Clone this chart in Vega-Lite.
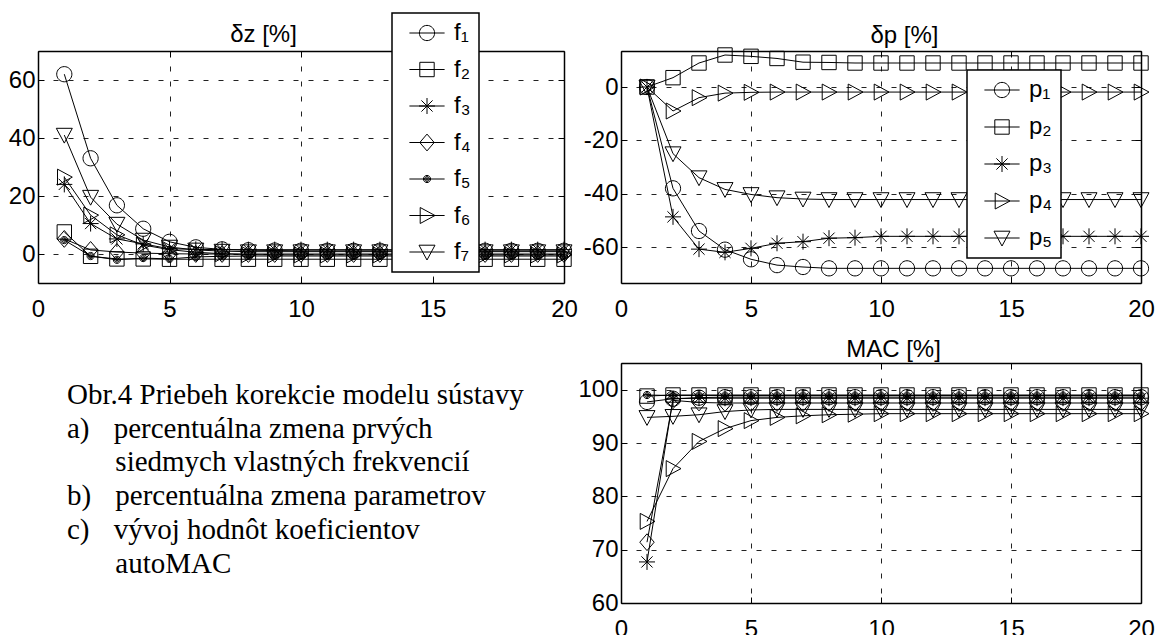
{
  "$schema": "https://vega.github.io/schema/vega-lite/v6.json",
  "background": "white",
  "padding": {"left": 8, "top": 12, "right": 0, "bottom": 0},
  "config": {
    "font": "Liberation Sans",
    "view": {"stroke": null},
    "axis": {
      "labelFont": "Liberation Sans", "labelFontSize": 24, "labelColor": "black",
      "domainColor": "black", "domainWidth": 1.5,
      "tickColor": "black", "tickWidth": 1, "tickSize": -6,
      "gridColor": "#222222", "gridDash": [5, 10], "gridWidth": 1,
      "labelFlush": false, "labelOverlap": false,
      "titleFont": "Liberation Sans", "titleFontSize": 24, "titleFontWeight": "normal", "titleColor": "black"
    },
    "legend": {
      "title": null, "orient": "none", "fillColor": "white", "strokeColor": "black", "strokeWidth": 1.5,
      "padding": 8, "symbolSize": 256, "symbolStrokeWidth": 1, "symbolStrokeColor": "black",
      "symbolFillColor": "transparent", "symbolOpacity": 1, "symbolOffset": 15, "labelOffset": 15,
      "labelFont": "Liberation Sans", "labelFontSize": 24, "labelColor": "black", "rowPadding": 12.5, "labelLimit": 200
    }
  },
  "datasets": {
    "dz": [
      {"i":1,"s":"f1","v":62},{"i":2,"s":"f1","v":33},{"i":3,"s":"f1","v":16.8},{"i":4,"s":"f1","v":8.7},{"i":5,"s":"f1","v":4.2},{"i":6,"s":"f1","v":2.3},{"i":7,"s":"f1","v":1.6},{"i":8,"s":"f1","v":1.3},{"i":9,"s":"f1","v":1.2},{"i":10,"s":"f1","v":1.1},{"i":11,"s":"f1","v":1.1},{"i":12,"s":"f1","v":1.1},{"i":13,"s":"f1","v":1.1},{"i":14,"s":"f1","v":1.1},{"i":15,"s":"f1","v":1.1},{"i":16,"s":"f1","v":1.1},{"i":17,"s":"f1","v":1.1},{"i":18,"s":"f1","v":1.1},{"i":19,"s":"f1","v":1.1},{"i":20,"s":"f1","v":1.1},
      {"i":1,"s":"f2","v":7.6},{"i":2,"s":"f2","v":-0.8},{"i":3,"s":"f2","v":-1.7},{"i":4,"s":"f2","v":-1.7},{"i":5,"s":"f2","v":-1.8},{"i":6,"s":"f2","v":-1.8},{"i":7,"s":"f2","v":-1.8},{"i":8,"s":"f2","v":-1.8},{"i":9,"s":"f2","v":-1.8},{"i":10,"s":"f2","v":-1.8},{"i":11,"s":"f2","v":-1.8},{"i":12,"s":"f2","v":-1.8},{"i":13,"s":"f2","v":-1.8},{"i":14,"s":"f2","v":-1.8},{"i":15,"s":"f2","v":-1.8},{"i":16,"s":"f2","v":-1.8},{"i":17,"s":"f2","v":-1.8},{"i":18,"s":"f2","v":-1.8},{"i":19,"s":"f2","v":-1.8},{"i":20,"s":"f2","v":-1.8},
      {"i":1,"s":"f3","v":24},{"i":2,"s":"f3","v":10.5},{"i":3,"s":"f3","v":5.2},{"i":4,"s":"f3","v":3.5},{"i":5,"s":"f3","v":1.8},{"i":6,"s":"f3","v":1.6},{"i":7,"s":"f3","v":1.5},{"i":8,"s":"f3","v":1.5},{"i":9,"s":"f3","v":1.5},{"i":10,"s":"f3","v":1.5},{"i":11,"s":"f3","v":1.5},{"i":12,"s":"f3","v":1.5},{"i":13,"s":"f3","v":1.5},{"i":14,"s":"f3","v":1.5},{"i":15,"s":"f3","v":1.5},{"i":16,"s":"f3","v":1.5},{"i":17,"s":"f3","v":1.5},{"i":18,"s":"f3","v":1.5},{"i":19,"s":"f3","v":1.5},{"i":20,"s":"f3","v":1.5},
      {"i":1,"s":"f4","v":5.2},{"i":2,"s":"f4","v":1.4},{"i":3,"s":"f4","v":0.7},{"i":4,"s":"f4","v":0.3},{"i":5,"s":"f4","v":0.1},{"i":6,"s":"f4","v":0},{"i":7,"s":"f4","v":0},{"i":8,"s":"f4","v":0},{"i":9,"s":"f4","v":0},{"i":10,"s":"f4","v":0},{"i":11,"s":"f4","v":0},{"i":12,"s":"f4","v":0},{"i":13,"s":"f4","v":0},{"i":14,"s":"f4","v":0},{"i":15,"s":"f4","v":0},{"i":16,"s":"f4","v":0},{"i":17,"s":"f4","v":0},{"i":18,"s":"f4","v":0},{"i":19,"s":"f4","v":0},{"i":20,"s":"f4","v":0},
      {"i":1,"s":"f5","v":4.8},{"i":2,"s":"f5","v":-0.7},{"i":3,"s":"f5","v":-2},{"i":4,"s":"f5","v":-1.4},{"i":5,"s":"f5","v":-1.7},{"i":6,"s":"f5","v":-1},{"i":7,"s":"f5","v":-0.8},{"i":8,"s":"f5","v":-0.7},{"i":9,"s":"f5","v":-0.7},{"i":10,"s":"f5","v":-0.7},{"i":11,"s":"f5","v":-0.7},{"i":12,"s":"f5","v":-0.7},{"i":13,"s":"f5","v":-0.7},{"i":14,"s":"f5","v":-0.7},{"i":15,"s":"f5","v":-0.7},{"i":16,"s":"f5","v":-0.7},{"i":17,"s":"f5","v":-0.7},{"i":18,"s":"f5","v":-0.7},{"i":19,"s":"f5","v":-0.7},{"i":20,"s":"f5","v":-0.7},
      {"i":1,"s":"f6","v":26.5},{"i":2,"s":"f6","v":13.4},{"i":3,"s":"f6","v":6.6},{"i":4,"s":"f6","v":3.1},{"i":5,"s":"f6","v":1.5},{"i":6,"s":"f6","v":0.6},{"i":7,"s":"f6","v":0.1},{"i":8,"s":"f6","v":-0.2},{"i":9,"s":"f6","v":-0.3},{"i":10,"s":"f6","v":-0.3},{"i":11,"s":"f6","v":-0.3},{"i":12,"s":"f6","v":-0.3},{"i":13,"s":"f6","v":-0.3},{"i":14,"s":"f6","v":-0.3},{"i":15,"s":"f6","v":-0.3},{"i":16,"s":"f6","v":-0.3},{"i":17,"s":"f6","v":-0.3},{"i":18,"s":"f6","v":-0.3},{"i":19,"s":"f6","v":-0.3},{"i":20,"s":"f6","v":-0.3},
      {"i":1,"s":"f7","v":41},{"i":2,"s":"f7","v":19.6},{"i":3,"s":"f7","v":10.3},{"i":4,"s":"f7","v":4.8},{"i":5,"s":"f7","v":2.4},{"i":6,"s":"f7","v":1.4},{"i":7,"s":"f7","v":1},{"i":8,"s":"f7","v":0.8},{"i":9,"s":"f7","v":0.8},{"i":10,"s":"f7","v":0.8},{"i":11,"s":"f7","v":0.8},{"i":12,"s":"f7","v":0.8},{"i":13,"s":"f7","v":0.8},{"i":14,"s":"f7","v":0.8},{"i":15,"s":"f7","v":0.8},{"i":16,"s":"f7","v":0.8},{"i":17,"s":"f7","v":0.8},{"i":18,"s":"f7","v":0.8},{"i":19,"s":"f7","v":0.8},{"i":20,"s":"f7","v":0.8}
    ],
    "dp": [
      {"i":1,"s":"p1","v":0},{"i":2,"s":"p1","v":-38},{"i":3,"s":"p1","v":-54},{"i":4,"s":"p1","v":-61},{"i":5,"s":"p1","v":-64.6},{"i":6,"s":"p1","v":-66.8},{"i":7,"s":"p1","v":-67.5},{"i":8,"s":"p1","v":-68},{"i":9,"s":"p1","v":-68},{"i":10,"s":"p1","v":-68},{"i":11,"s":"p1","v":-68},{"i":12,"s":"p1","v":-68},{"i":13,"s":"p1","v":-68},{"i":14,"s":"p1","v":-68},{"i":15,"s":"p1","v":-68},{"i":16,"s":"p1","v":-68},{"i":17,"s":"p1","v":-68},{"i":18,"s":"p1","v":-68},{"i":19,"s":"p1","v":-68},{"i":20,"s":"p1","v":-68},
      {"i":1,"s":"p2","v":0},{"i":2,"s":"p2","v":3.5},{"i":3,"s":"p2","v":9},{"i":4,"s":"p2","v":12},{"i":5,"s":"p2","v":11.5},{"i":6,"s":"p2","v":10.7},{"i":7,"s":"p2","v":9.3},{"i":8,"s":"p2","v":9.2},{"i":9,"s":"p2","v":9},{"i":10,"s":"p2","v":9},{"i":11,"s":"p2","v":9},{"i":12,"s":"p2","v":9},{"i":13,"s":"p2","v":9},{"i":14,"s":"p2","v":9},{"i":15,"s":"p2","v":9},{"i":16,"s":"p2","v":9},{"i":17,"s":"p2","v":9},{"i":18,"s":"p2","v":9},{"i":19,"s":"p2","v":9},{"i":20,"s":"p2","v":9},
      {"i":1,"s":"p3","v":0},{"i":2,"s":"p3","v":-48.7},{"i":3,"s":"p3","v":-60.8},{"i":4,"s":"p3","v":-62},{"i":5,"s":"p3","v":-60.5},{"i":6,"s":"p3","v":-58.6},{"i":7,"s":"p3","v":-58},{"i":8,"s":"p3","v":-56.7},{"i":9,"s":"p3","v":-56.5},{"i":10,"s":"p3","v":-56},{"i":11,"s":"p3","v":-56},{"i":12,"s":"p3","v":-56},{"i":13,"s":"p3","v":-56},{"i":14,"s":"p3","v":-56},{"i":15,"s":"p3","v":-56},{"i":16,"s":"p3","v":-56},{"i":17,"s":"p3","v":-56},{"i":18,"s":"p3","v":-56},{"i":19,"s":"p3","v":-56},{"i":20,"s":"p3","v":-56},
      {"i":1,"s":"p4","v":0},{"i":2,"s":"p4","v":-9},{"i":3,"s":"p4","v":-4},{"i":4,"s":"p4","v":-2.3},{"i":5,"s":"p4","v":-2},{"i":6,"s":"p4","v":-1.9},{"i":7,"s":"p4","v":-1.9},{"i":8,"s":"p4","v":-1.9},{"i":9,"s":"p4","v":-1.9},{"i":10,"s":"p4","v":-1.9},{"i":11,"s":"p4","v":-1.9},{"i":12,"s":"p4","v":-1.9},{"i":13,"s":"p4","v":-1.9},{"i":14,"s":"p4","v":-1.9},{"i":15,"s":"p4","v":-1.9},{"i":16,"s":"p4","v":-1.9},{"i":17,"s":"p4","v":-1.9},{"i":18,"s":"p4","v":-1.9},{"i":19,"s":"p4","v":-1.9},{"i":20,"s":"p4","v":-1.9},
      {"i":1,"s":"p5","v":0},{"i":2,"s":"p5","v":-25},{"i":3,"s":"p5","v":-34},{"i":4,"s":"p5","v":-38.4},{"i":5,"s":"p5","v":-40.3},{"i":6,"s":"p5","v":-41.5},{"i":7,"s":"p5","v":-42},{"i":8,"s":"p5","v":-42.2},{"i":9,"s":"p5","v":-42.2},{"i":10,"s":"p5","v":-42.2},{"i":11,"s":"p5","v":-42.2},{"i":12,"s":"p5","v":-42.2},{"i":13,"s":"p5","v":-42.2},{"i":14,"s":"p5","v":-42.2},{"i":15,"s":"p5","v":-42.2},{"i":16,"s":"p5","v":-42.2},{"i":17,"s":"p5","v":-42.2},{"i":18,"s":"p5","v":-42.2},{"i":19,"s":"p5","v":-42.2},{"i":20,"s":"p5","v":-42.2}
    ],
    "mac": [
      {"i":1,"s":"f1","v":97.7},{"i":2,"s":"f1","v":98.3},{"i":3,"s":"f1","v":98.5},{"i":4,"s":"f1","v":98.6},{"i":5,"s":"f1","v":98.6},{"i":6,"s":"f1","v":98.6},{"i":7,"s":"f1","v":98.6},{"i":8,"s":"f1","v":98.6},{"i":9,"s":"f1","v":98.6},{"i":10,"s":"f1","v":98.6},{"i":11,"s":"f1","v":98.6},{"i":12,"s":"f1","v":98.6},{"i":13,"s":"f1","v":98.6},{"i":14,"s":"f1","v":98.6},{"i":15,"s":"f1","v":98.6},{"i":16,"s":"f1","v":98.6},{"i":17,"s":"f1","v":98.6},{"i":18,"s":"f1","v":98.6},{"i":19,"s":"f1","v":98.6},{"i":20,"s":"f1","v":98.6},
      {"i":1,"s":"f2","v":98.8},{"i":2,"s":"f2","v":99},{"i":3,"s":"f2","v":99},{"i":4,"s":"f2","v":99},{"i":5,"s":"f2","v":99},{"i":6,"s":"f2","v":99},{"i":7,"s":"f2","v":99},{"i":8,"s":"f2","v":99},{"i":9,"s":"f2","v":99},{"i":10,"s":"f2","v":99},{"i":11,"s":"f2","v":99},{"i":12,"s":"f2","v":99},{"i":13,"s":"f2","v":99},{"i":14,"s":"f2","v":99},{"i":15,"s":"f2","v":99},{"i":16,"s":"f2","v":99},{"i":17,"s":"f2","v":99},{"i":18,"s":"f2","v":99},{"i":19,"s":"f2","v":99},{"i":20,"s":"f2","v":99},
      {"i":1,"s":"f3","v":67.7},{"i":2,"s":"f3","v":98.3},{"i":3,"s":"f3","v":98.4},{"i":4,"s":"f3","v":98.4},{"i":5,"s":"f3","v":98.4},{"i":6,"s":"f3","v":98.4},{"i":7,"s":"f3","v":98.4},{"i":8,"s":"f3","v":98.4},{"i":9,"s":"f3","v":98.4},{"i":10,"s":"f3","v":98.4},{"i":11,"s":"f3","v":98.4},{"i":12,"s":"f3","v":98.4},{"i":13,"s":"f3","v":98.4},{"i":14,"s":"f3","v":98.4},{"i":15,"s":"f3","v":98.4},{"i":16,"s":"f3","v":98.4},{"i":17,"s":"f3","v":98.4},{"i":18,"s":"f3","v":98.4},{"i":19,"s":"f3","v":98.4},{"i":20,"s":"f3","v":98.4},
      {"i":1,"s":"f4","v":71.4},{"i":2,"s":"f4","v":98},{"i":3,"s":"f4","v":97.6},{"i":4,"s":"f4","v":97.5},{"i":5,"s":"f4","v":97.5},{"i":6,"s":"f4","v":97.5},{"i":7,"s":"f4","v":97.5},{"i":8,"s":"f4","v":97.5},{"i":9,"s":"f4","v":97.5},{"i":10,"s":"f4","v":97.5},{"i":11,"s":"f4","v":97.5},{"i":12,"s":"f4","v":97.5},{"i":13,"s":"f4","v":97.5},{"i":14,"s":"f4","v":97.5},{"i":15,"s":"f4","v":97.5},{"i":16,"s":"f4","v":97.5},{"i":17,"s":"f4","v":97.5},{"i":18,"s":"f4","v":97.5},{"i":19,"s":"f4","v":97.5},{"i":20,"s":"f4","v":97.5},
      {"i":1,"s":"f5","v":99},{"i":2,"s":"f5","v":98.9},{"i":3,"s":"f5","v":98.9},{"i":4,"s":"f5","v":98.9},{"i":5,"s":"f5","v":98.9},{"i":6,"s":"f5","v":98.9},{"i":7,"s":"f5","v":98.9},{"i":8,"s":"f5","v":98.9},{"i":9,"s":"f5","v":98.9},{"i":10,"s":"f5","v":98.9},{"i":11,"s":"f5","v":98.9},{"i":12,"s":"f5","v":98.9},{"i":13,"s":"f5","v":98.9},{"i":14,"s":"f5","v":98.9},{"i":15,"s":"f5","v":98.9},{"i":16,"s":"f5","v":98.9},{"i":17,"s":"f5","v":98.9},{"i":18,"s":"f5","v":98.9},{"i":19,"s":"f5","v":98.9},{"i":20,"s":"f5","v":98.9},
      {"i":1,"s":"f6","v":75.3},{"i":2,"s":"f6","v":85.2},{"i":3,"s":"f6","v":90.3},{"i":4,"s":"f6","v":92.7},{"i":5,"s":"f6","v":94.2},{"i":6,"s":"f6","v":94.8},{"i":7,"s":"f6","v":95.1},{"i":8,"s":"f6","v":95.3},{"i":9,"s":"f6","v":95.4},{"i":10,"s":"f6","v":95.5},{"i":11,"s":"f6","v":95.5},{"i":12,"s":"f6","v":95.5},{"i":13,"s":"f6","v":95.5},{"i":14,"s":"f6","v":95.5},{"i":15,"s":"f6","v":95.5},{"i":16,"s":"f6","v":95.5},{"i":17,"s":"f6","v":95.5},{"i":18,"s":"f6","v":95.5},{"i":19,"s":"f6","v":95.5},{"i":20,"s":"f6","v":95.5},
      {"i":1,"s":"f7","v":94.8},{"i":2,"s":"f7","v":95},{"i":3,"s":"f7","v":95.3},{"i":4,"s":"f7","v":95.9},{"i":5,"s":"f7","v":96.2},{"i":6,"s":"f7","v":96.3},{"i":7,"s":"f7","v":96.3},{"i":8,"s":"f7","v":96.3},{"i":9,"s":"f7","v":96.3},{"i":10,"s":"f7","v":96.3},{"i":11,"s":"f7","v":96.3},{"i":12,"s":"f7","v":96.3},{"i":13,"s":"f7","v":96.3},{"i":14,"s":"f7","v":96.3},{"i":15,"s":"f7","v":96.3},{"i":16,"s":"f7","v":96.3},{"i":17,"s":"f7","v":96.3},{"i":18,"s":"f7","v":96.3},{"i":19,"s":"f7","v":96.3},{"i":20,"s":"f7","v":96.3}
    ],
    "caption": [
      {"n":1,"t":"Obr.4 Priebeh korekcie modelu sústavy"},
      {"n":2,"t":"a)\u2002\u2004percentuálna zmena prvých"},
      {"n":3,"t":"\u200b\u00a0\u2003\u2004\u200asiedmych vlastných frekvencií"},
      {"n":4,"t":"b)\u2002\u2004percentuálna zmena parametrov"},
      {"n":5,"t":"c)\u2002\u2004vývoj hodnôt koeficientov"},
      {"n":6,"t":"\u200b\u00a0\u2003\u2004\u200aautoMAC"}
    ]
  },
  "columns": 2,
  "bounds": "flush",
  "spacing": {"row": 80, "column": 57},
  "concat": [
    {
      "width": 526, "height": 232,
      "data": {"name": "dz"},
      "layer": [
        {
          "mark": {"type": "line", "color": "black", "strokeWidth": 1},
          "encoding": {
            "x": {"field": "i", "type": "quantitative", "scale": {"domain": [0, 20], "nice": false},
                  "axis": {"orient": "bottom", "values": [0, 5, 10, 15, 20], "grid": true, "title": null, "labelPadding": 20}},
            "y": {"field": "v", "type": "quantitative", "scale": {"domain": [-10, 70], "nice": false, "zero": false},
                  "axis": {"orient": "left", "values": [0, 20, 40, 60], "grid": true, "title": null, "labelPadding": 9}},
            "detail": {"field": "s"}
          }
        },
        {
          "mark": {"type": "point", "filled": false, "stroke": "black", "strokeWidth": 1, "size": 256, "opacity": 1},
          "encoding": {
            "x": {"field": "i", "type": "quantitative",
                  "axis": {"orient": "top", "values": [0, 5, 10, 15, 20], "labels": false, "grid": false, "title": "δz [%]", "titleX": 225, "titleY": -10, "titleBaseline": "alphabetic"}},
            "y": {"field": "v", "type": "quantitative",
                  "axis": {"orient": "right", "values": [0, 20, 40, 60], "labels": false, "grid": false, "title": null}},
            "shape": {"field": "s", "type": "nominal", "legend": null,
              "scale": {"domain": ["f1","f2","f3","f4","f5","f6","f7"],
                "range": [
                  "M-0.95,0A0.95,0.95 0 1,0 0.95,0A0.95,0.95 0 1,0 -0.95,0Z",
                  "M-0.9,-0.9L0.9,-0.9L0.9,0.9L-0.9,0.9Z",
                  "M-1,0L1,0M0,-1L0,1M-0.7,-0.7L0.7,0.7M-0.7,0.7L0.7,-0.7",
                  "M0,-1.05L0.9,0L0,1.05L-0.9,0Z",
                  "M-0.45,0A0.45,0.45 0 1,0 0.45,0A0.45,0.45 0 1,0 -0.45,0ZM-0.3,0A0.3,0.3 0 1,0 0.3,0A0.3,0.3 0 1,0 -0.3,0ZM-0.15,0A0.15,0.15 0 1,0 0.15,0A0.15,0.15 0 1,0 -0.15,0ZM-0.05,0L0.05,0",
                  "M-0.85,-1L1,0L-0.85,1Z",
                  "M-1,-0.85L1,-0.85L0,1Z"
                ]}}
          }
        },
        {
          "mark": {"type": "point", "filled": false, "stroke": "black", "strokeWidth": 1, "size": 256, "opacity": 0},
          "encoding": {
            "x": {"field": "i", "type": "quantitative", "axis": null},
            "y": {"field": "v", "type": "quantitative", "axis": null},
            "shape": {"field": "s", "type": "nominal",
              "legend": {"orient": "none", "legendX": 354, "legendY": -38,
                "labelExpr": "'f' + ['', '\u2081', '\u2082', '\u2083', '\u2084', '\u2085', '\u2086', '\u2087'][toNumber(substring(datum.label, 1))]"},
              "scale": {"domain": ["f1","f2","f3","f4","f5","f6","f7"],
                "range": [
                  "M-0.95,0A0.95,0.95 0 1,0 0.95,0A0.95,0.95 0 1,0 -0.95,0ZM-2.2,0L2.2,0",
                  "M-0.9,-0.9L0.9,-0.9L0.9,0.9L-0.9,0.9ZM-2.2,0L2.2,0",
                  "M-1,0L1,0M0,-1L0,1M-0.7,-0.7L0.7,0.7M-0.7,0.7L0.7,-0.7M-2.2,0L2.2,0",
                  "M0,-1.05L0.9,0L0,1.05L-0.9,0ZM-2.2,0L2.2,0",
                  "M-0.45,0A0.45,0.45 0 1,0 0.45,0A0.45,0.45 0 1,0 -0.45,0ZM-0.3,0A0.3,0.3 0 1,0 0.3,0A0.3,0.3 0 1,0 -0.3,0ZM-0.15,0A0.15,0.15 0 1,0 0.15,0A0.15,0.15 0 1,0 -0.15,0ZM-2.2,0L2.2,0",
                  "M-0.85,-1L1,0L-0.85,1ZM-2.2,0L2.2,0",
                  "M-1,-0.85L1,-0.85L0,1ZM-2.2,0L2.2,0"
                ]}}
          }
        }
      ],
      "resolve": {"axis": {"x": "independent", "y": "independent"}, "scale": {"shape": "independent"}, "legend": {"shape": "independent"}}
    },
    {
      "width": 520, "height": 232,
      "data": {"name": "dp"},
      "layer": [
        {
          "mark": {"type": "line", "color": "black", "strokeWidth": 1},
          "encoding": {
            "x": {"field": "i", "type": "quantitative", "scale": {"domain": [0, 20], "nice": false},
                  "axis": {"orient": "bottom", "values": [0, 5, 10, 15, 20], "grid": true, "title": null, "labelPadding": 20}},
            "y": {"field": "v", "type": "quantitative", "scale": {"domain": [-73.5, 13.5], "nice": false, "zero": false},
                  "axis": {"orient": "left", "values": [-60, -40, -20, 0], "grid": true, "title": null, "labelPadding": 9,
                           "labelExpr": "datum.value < 0 ? '-' + abs(datum.value) : '' + datum.value"}},
            "detail": {"field": "s"}
          }
        },
        {
          "mark": {"type": "point", "filled": false, "stroke": "black", "strokeWidth": 1, "size": 256, "opacity": 1},
          "encoding": {
            "x": {"field": "i", "type": "quantitative",
                  "axis": {"orient": "top", "values": [0, 5, 10, 15, 20], "labels": false, "grid": false, "title": "δp [%]", "titleX": 283, "titleY": -9, "titleBaseline": "alphabetic"}},
            "y": {"field": "v", "type": "quantitative",
                  "axis": {"orient": "right", "values": [-60, -40, -20, 0], "labels": false, "grid": false, "title": null}},
            "shape": {"field": "s", "type": "nominal", "legend": null,
              "scale": {"domain": ["p1","p2","p3","p4","p5"],
                "range": [
                  "M-0.95,0A0.95,0.95 0 1,0 0.95,0A0.95,0.95 0 1,0 -0.95,0Z",
                  "M-0.9,-0.9L0.9,-0.9L0.9,0.9L-0.9,0.9Z",
                  "M-1,0L1,0M0,-1L0,1M-0.7,-0.7L0.7,0.7M-0.7,0.7L0.7,-0.7",
                  "M-0.85,-1L1,0L-0.85,1Z",
                  "M-1,-0.85L1,-0.85L0,1Z"
                ]}}
          }
        },
        {
          "mark": {"type": "point", "filled": false, "stroke": "black", "strokeWidth": 1, "size": 256, "opacity": 0},
          "encoding": {
            "x": {"field": "i", "type": "quantitative", "axis": null},
            "y": {"field": "v", "type": "quantitative", "axis": null},
            "shape": {"field": "s", "type": "nominal",
              "legend": {"orient": "none", "legendX": 346, "legendY": 19, "rowPadding": 13,
                "labelExpr": "'p' + ['', '\u2081', '\u2082', '\u2083', '\u2084', '\u2085'][toNumber(substring(datum.label, 1))]"},
              "scale": {"domain": ["p1","p2","p3","p4","p5"],
                "range": [
                  "M-0.95,0A0.95,0.95 0 1,0 0.95,0A0.95,0.95 0 1,0 -0.95,0ZM-2.2,0L2.2,0",
                  "M-0.9,-0.9L0.9,-0.9L0.9,0.9L-0.9,0.9ZM-2.2,0L2.2,0",
                  "M-1,0L1,0M0,-1L0,1M-0.7,-0.7L0.7,0.7M-0.7,0.7L0.7,-0.7M-2.2,0L2.2,0",
                  "M-0.85,-1L1,0L-0.85,1ZM-2.2,0L2.2,0",
                  "M-1,-0.85L1,-0.85L0,1ZM-2.2,0L2.2,0"
                ]}}
          }
        }
      ],
      "resolve": {"axis": {"x": "independent", "y": "independent"}, "scale": {"shape": "independent"}, "legend": {"shape": "independent"}}
    },
    {
      "width": 58, "height": 251,
      "data": {"name": "caption"},
      "mark": {"type": "text", "align": "left", "baseline": "alphabetic", "font": "Liberation Serif", "fontSize": 29, "color": "black"},
      "encoding": {
        "y": {"field": "n", "type": "ordinal", "axis": null, "scale": {"type": "point", "range": [41, 209.5], "padding": 0}},
        "text": {"field": "t"}
      }
    },
    {
      "width": 520, "height": 240,
      "data": {"name": "mac"},
      "layer": [
        {
          "mark": {"type": "line", "color": "black", "strokeWidth": 1},
          "encoding": {
            "x": {"field": "i", "type": "quantitative", "scale": {"domain": [0, 20], "nice": false},
                  "axis": {"orient": "bottom", "values": [0, 5, 10, 15, 20], "grid": true, "title": null, "labelPadding": 20}},
            "y": {"field": "v", "type": "quantitative", "scale": {"domain": [60, 105], "nice": false, "zero": false},
                  "axis": {"orient": "left", "values": [60, 70, 80, 90, 100], "grid": true, "title": null, "labelPadding": 9}},
            "detail": {"field": "s"}
          }
        },
        {
          "mark": {"type": "point", "filled": false, "stroke": "black", "strokeWidth": 1, "size": 256, "opacity": 1},
          "encoding": {
            "x": {"field": "i", "type": "quantitative",
                  "axis": {"orient": "top", "values": [0, 5, 10, 15, 20], "labels": false, "grid": false, "title": "MAC [%]", "titleX": 272, "titleY": -7, "titleBaseline": "alphabetic"}},
            "y": {"field": "v", "type": "quantitative",
                  "axis": {"orient": "right", "values": [60, 70, 80, 90, 100], "labels": false, "grid": false, "title": null}},
            "shape": {"field": "s", "type": "nominal", "legend": null,
              "scale": {"domain": ["f1","f2","f3","f4","f5","f6","f7"],
                "range": [
                  "M-0.95,0A0.95,0.95 0 1,0 0.95,0A0.95,0.95 0 1,0 -0.95,0Z",
                  "M-0.9,-0.9L0.9,-0.9L0.9,0.9L-0.9,0.9Z",
                  "M-1,0L1,0M0,-1L0,1M-0.7,-0.7L0.7,0.7M-0.7,0.7L0.7,-0.7",
                  "M0,-1.05L0.9,0L0,1.05L-0.9,0Z",
                  "M-0.45,0A0.45,0.45 0 1,0 0.45,0A0.45,0.45 0 1,0 -0.45,0ZM-0.3,0A0.3,0.3 0 1,0 0.3,0A0.3,0.3 0 1,0 -0.3,0ZM-0.15,0A0.15,0.15 0 1,0 0.15,0A0.15,0.15 0 1,0 -0.15,0ZM-0.05,0L0.05,0",
                  "M-0.85,-1L1,0L-0.85,1Z",
                  "M-1,-0.85L1,-0.85L0,1Z"
                ]}}
          }
        }
      ],
      "resolve": {"axis": {"x": "independent", "y": "independent"}}
    }
  ]
}
